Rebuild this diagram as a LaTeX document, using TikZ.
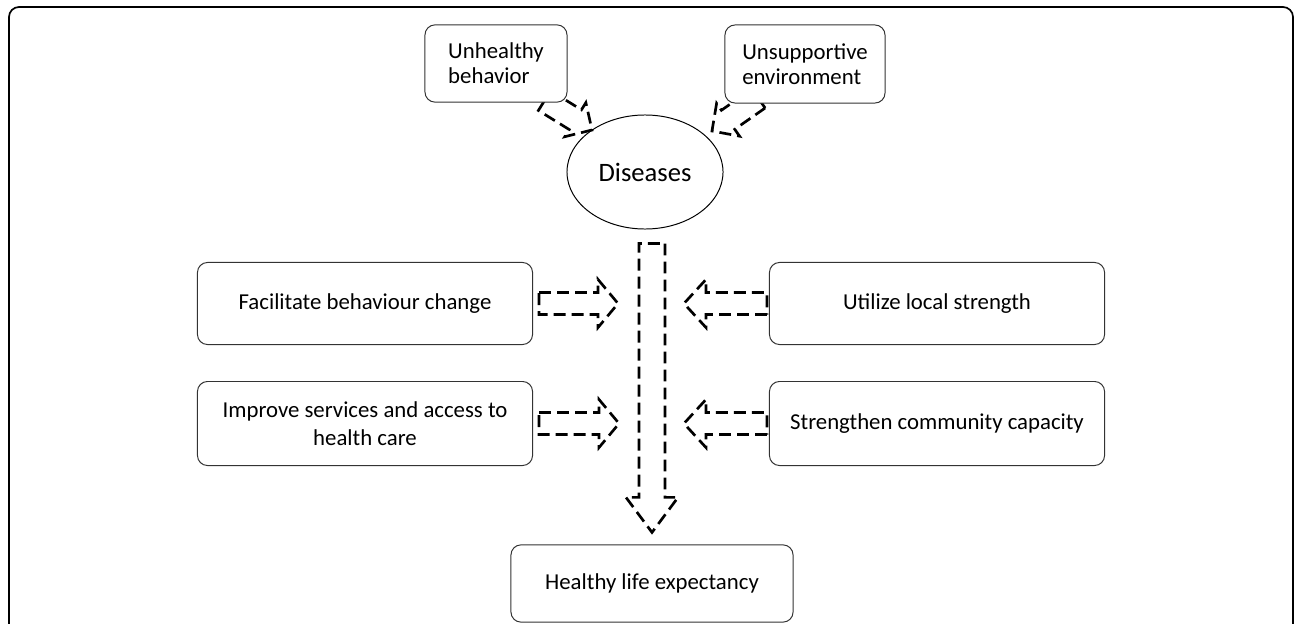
\documentclass[tikz,border=0pt]{standalone}
\usepackage{fontspec}
\setmainfont{Carlito}
\usetikzlibrary{calc,shapes.geometric,backgrounds}

\newcommand{\blockarr}[5]{%
\coordinate (h) at ($(#2)!#5!(#1)$);
\draw [blockline] ($(#1)!#3!90:(#2)$) -- ($(h)!#3!-90:(#1)$) -- ($(h)!#4!-90:(#1)$) -- (#2)
  -- ($(h)!#4!90:(#1)$) -- ($(h)!#3!90:(#1)$) -- ($(#1)!#3!-90:(#2)$) -- cycle;
}

\begin{document}
\begin{tikzpicture}[x=0.025cm, y=-0.025cm,
  box/.style={draw=black!80, line width=0.7pt, rounded corners=0.25cm, fill=white,
    align=center, inner sep=0pt, minimum height=2.05cm},
  blockline/.style={line width=1.9pt, dash pattern=on 8.5pt off 4.3pt, line join=miter},
  every node/.style={font=\fontsize{16.2}{20}\selectfont}]
\useasboundingbox (0,0) rectangle (1295,624);
\draw [line width=1.2pt, rounded corners=0.25cm] (9,700) -- (9,7) -- (1293,7) -- (1293,700);

\node [box, align=left, minimum width=3.55cm, minimum height=1.93cm, font=\fontsize{16.2}{17.8}\selectfont] (ub) at (496,63.5) {Unhealthy\\behavior};
\node [box, align=left, minimum width=4cm, minimum height=1.95cm, font=\fontsize{16.2}{17.8}\selectfont] (ue) at (805,64) {Unsupportive\\environment};
\node [draw, ellipse, line width=0.7pt, inner sep=0pt, minimum width=3.9cm, minimum height=2.85cm, font=\fontsize{18.9}{22}\selectfont] (dis) at (645,172) {Diseases};
\node [box, minimum width=8.375cm] (fb) at (365,303.5) {Facilitate behaviour change};
\node [box, minimum width=8.375cm] (ul) at (937,303.5) {Utilize local strength};
\node [box, minimum width=8.375cm, minimum height=2.1cm] (is) at (365,423.5) {Improve services and access to\\health care};
\node [box, minimum width=8.375cm, minimum height=2.1cm] (sc) at (937,423.5) {Strengthen community capacity};
\node [box, minimum width=7.05cm, minimum height=1.93cm] (hle) at (652,583.5) {Healthy life expectancy};

\coordinate (ubA) at ($(ub.south east)+(-23,-2)$);
\coordinate (ubB) at ($(dis.center)+(-53,-42)$);
\coordinate (ueA) at ($(ue.south west)+(34,-5)$);
\coordinate (ueB) at ($(dis.center)+(67,-41)$);
\coordinate (fbA) at ($(fb.east)+(6,0)$);
\coordinate (fbB) at ($(fb.east)+(85,0)$);
\coordinate (ulA) at ($(ul.west)+(-2,0)$);
\coordinate (ulB) at ($(ul.west)+(-85,0)$);
\coordinate (isA) at ($(is.east)+(6,0)$);
\coordinate (isB) at ($(is.east)+(86,0)$);
\coordinate (scA) at ($(sc.west)+(-2,0)$);
\coordinate (scB) at ($(sc.west)+(-85,0)$);
\coordinate (disA) at ($(dis.south)+(7,14)$);
\coordinate (hleA) at ($(hle.north)+(0,-12)$);

\begin{pgfonlayer}{background}
\blockarr{ubA}{ubB}{0.29cm}{0.5cm}{0.49cm}
\blockarr{ueA}{ueB}{0.29cm}{0.5cm}{0.49cm}
\end{pgfonlayer}
\blockarr{fbA}{fbB}{0.275cm}{0.6cm}{0.5cm}
\blockarr{ulA}{ulB}{0.275cm}{0.6cm}{0.55cm}
\blockarr{isA}{isB}{0.275cm}{0.6cm}{0.5cm}
\blockarr{scA}{scB}{0.275cm}{0.6cm}{0.55cm}
\blockarr{disA}{hleA}{0.325cm}{0.65cm}{0.875cm}
\end{tikzpicture}
\end{document}
